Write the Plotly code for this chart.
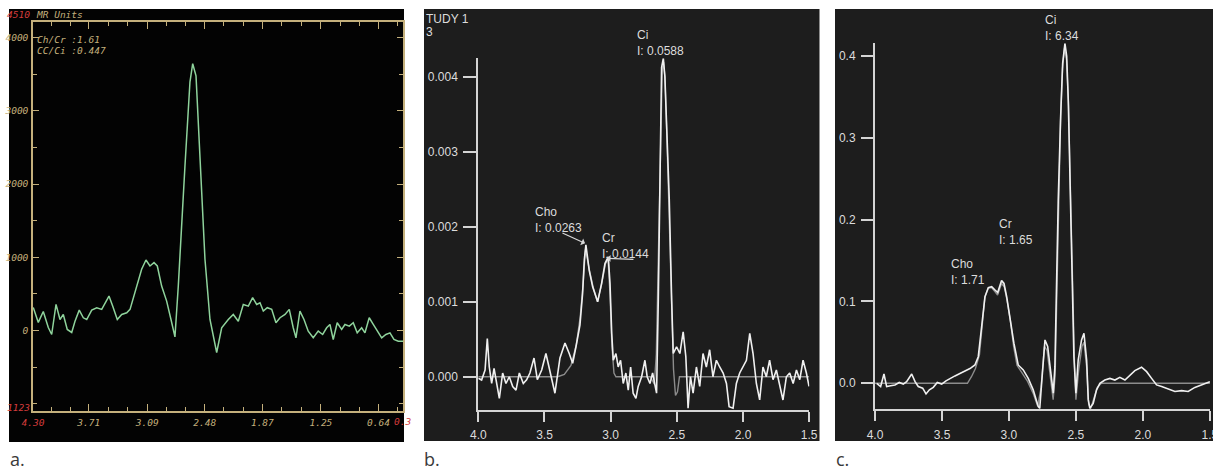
import plotly.graph_objects as go

# ---------------- data ----------------
# Panel a: MR spectrum (ppm, MR units)
a_ppm = [4.297, 4.244, 4.191, 4.138, 4.102, 4.056, 4.014, 3.979, 3.937, 3.890, 3.855, 3.810,
         3.767, 3.731, 3.678, 3.625, 3.572, 3.537, 3.495, 3.456, 3.407, 3.360, 3.307, 3.272,
         3.238, 3.195, 3.149, 3.103, 3.061, 3.018, 2.983, 2.937, 2.884, 2.838, 2.796, 2.761,
         2.743, 2.690, 2.637, 2.608, 2.573, 2.531, 2.478, 2.425, 2.354, 2.301, 2.231, 2.178,
         2.125, 2.072, 2.019, 1.973, 1.930, 1.895, 1.860, 1.818, 1.771, 1.726, 1.683, 1.630,
         1.585, 1.543, 1.514, 1.472, 1.429, 1.384, 1.331, 1.278, 1.231, 1.189, 1.154, 1.119,
         1.077, 1.030, 0.995, 0.949, 0.907, 0.865, 0.818, 0.783, 0.738, 0.695, 0.653, 0.606,
         0.561, 0.518, 0.476, 0.430, 0.380]
a_val = [315, 110, 260, 41, -55, 356, 150, 219, 14, -27, 127, 278,
         173, 150, 278, 311, 288, 379, 470, 333, 150, 219, 242, 288,
         448, 653, 836, 963, 881, 927, 881, 607, 401, 150, -87, 600,
         1068, 2247, 3397, 3644, 3479, 2342, 973, 150, -301, 37, 150, 219,
         127, 356, 333, 448, 356, 379, 265, 311, 288, 105, 174, 219,
         288, 37, -100, 265, 150, -9, -100, -9, -55, 37, 82, -123,
         105, 14, 82, 59, 105, -32, 37, -32, 174, 82, -9, -100,
         -55, -32, -123, -146, -146]

a_xticks = [4.30, 3.71, 3.09, 2.48, 1.87, 1.25, 0.64]
a_xtext = ['<span style="color:#d43c3c">4.30</span>', '3.71', '3.09', '2.48', '1.87', '1.25', '0.64']
a_yticks = [0, 1000, 2000, 3000, 4000]

# Panel b: spectrum and fit
b_ppm = [4.000, 3.975, 3.949, 3.932, 3.917, 3.899, 3.881, 3.861, 3.841, 3.816, 3.791, 3.766,
         3.740, 3.715, 3.690, 3.660, 3.635, 3.610, 3.579, 3.554, 3.521, 3.489, 3.458, 3.421,
         3.383, 3.345, 3.313, 3.287, 3.262, 3.232, 3.212, 3.199, 3.187, 3.162, 3.136, 3.098,
         3.068, 3.043, 3.018, 3.005, 2.992, 2.980, 2.960, 2.943, 2.925, 2.905, 2.885, 2.867,
         2.849, 2.830, 2.809, 2.792, 2.766, 2.741, 2.724, 2.703, 2.683, 2.666, 2.653, 2.640,
         2.628, 2.615, 2.602, 2.590, 2.582, 2.572, 2.557, 2.539, 2.527, 2.502, 2.477, 2.452,
         2.432, 2.415, 2.397, 2.377, 2.352, 2.327, 2.302, 2.277, 2.252, 2.227, 2.201, 2.176,
         2.150, 2.125, 2.105, 2.075, 2.050, 2.025, 2.000, 1.974, 1.949, 1.924, 1.899, 1.874,
         1.849, 1.824, 1.799, 1.773, 1.748, 1.723, 1.698, 1.672, 1.647, 1.621, 1.596, 1.571,
         1.546, 1.521, 1.501]
b_val = [-0.00002, -0.000044, 0.00009, 0.00051, 0.00013, -0.00009, 0.00011, -0.00007, -0.00029,
         0.00005, -0.00009, 0.0, -0.00013, -0.00018, 0.00005, -0.00009, -0.00004, 0.00005,
         0.00025, -0.00004, 0.00009, 0.00031, 0.00005, -0.00022, 0.00025, 0.00045, 0.00031,
         0.00018, 0.0004, 0.00069, 0.00111, 0.00156, 0.00176, 0.00142, 0.0012, 0.001,
         0.00125, 0.00151, 0.0016, 0.00125, 0.00058, 0.00022, 0.00031, 0.00013, 0.00022,
         -0.00009, 0.00005, -0.00018, 0.00013, -0.00022, -0.00029, -0.00013, 0.0, 0.00022,
         0.0, -0.00009, 0.00005, -0.00009, -0.00022, 0.00102, 0.0028, 0.00413, 0.00425,
         0.004, 0.0036, 0.00316, 0.00236, 0.00102, 0.00031, 0.0004, 0.00031, 0.0006,
         0.00027, -0.00042, 0.0, -0.00022, 0.00013, -0.00013, 0.00031, 0.00013, 0.00036,
         0.0, 0.00022, 0.00013, 0.00005, -0.00009, -0.0004, -0.00042, -0.00009, 0.00005,
         0.00013, 0.00022, 0.00058, 0.00031, -0.00009, -0.00031, 0.00013, 0.0, 0.00022,
         -0.00004, 0.00009, -0.00009, -0.00031, 0.0, 0.00005, -0.00009, 0.00009, -0.00004,
         0.00022, 0.00005, -0.00013]
b_fit_ppm = [4.0, 3.40, 3.35, 3.30, 3.26, 3.23, 3.21, 3.19, 3.16, 3.13, 3.10, 3.07, 3.04, 3.02,
             3.005, 2.99, 2.975, 2.96, 2.70, 2.67, 2.655, 2.64, 2.625, 2.61, 2.60, 2.59, 2.575,
             2.555, 2.54, 2.525, 2.51, 2.495, 2.48, 1.5]
b_fit_val = [0.0, 0.0, 0.00003, 0.00015, 0.00042, 0.0008, 0.0012, 0.0017, 0.00142, 0.00118,
             0.001, 0.00122, 0.0015, 0.00158, 0.0011, 0.0004, 0.00005, 0.0, 0.0, -0.0001,
             0.0003, 0.0015, 0.003, 0.0041, 0.0042, 0.004, 0.0032, 0.002, 0.0009, 0.0001,
             -0.00025, -0.0002, 0.0, 0.0]

# Panel c: spectrum and fit
c_ppm = [3.987, 3.958, 3.933, 3.913, 3.883, 3.851, 3.819, 3.789, 3.764, 3.726, 3.701, 3.677,
         3.644, 3.619, 3.594, 3.565, 3.535, 3.502, 3.470, 3.440, 3.403, 3.366, 3.328, 3.291,
         3.254, 3.229, 3.204, 3.179, 3.154, 3.129, 3.104, 3.084, 3.055, 3.037, 3.017, 2.993,
         2.963, 2.931, 2.893, 2.856, 2.819, 2.781, 2.770, 2.756, 2.731, 2.711, 2.694, 2.669,
         2.657, 2.644, 2.632, 2.614, 2.599, 2.582, 2.569, 2.557, 2.545, 2.530, 2.515, 2.500,
         2.483, 2.458, 2.440, 2.420, 2.408, 2.396, 2.371, 2.346, 2.321, 2.284, 2.246, 2.209,
         2.172, 2.134, 2.097, 2.060, 2.010, 1.972, 1.935, 1.898, 1.860, 1.811, 1.761, 1.711,
         1.662, 1.612, 1.562, 1.525, 1.500]
c_val = [0.0, -0.004, 0.0114, -0.004, -0.003, -0.002, 0.001, -0.001, 0.002, 0.0114, 0.002,
         -0.004, -0.006, -0.013, -0.008, -0.005, 0.001, -0.001, 0.003, 0.006, 0.009, 0.012,
         0.0154, 0.018, 0.0224, 0.0325, 0.069, 0.106, 0.117, 0.118, 0.114, 0.111, 0.1255,
         0.122, 0.106, 0.0815, 0.049, 0.0224, 0.0163, 0.006, -0.008, -0.0286, -0.0306, 0.0,
         0.053, 0.045, 0.020, -0.012, 0.020, 0.1425, 0.224, 0.326, 0.391, 0.4156, 0.40,
         0.346, 0.2445, 0.122, 0.0325, -0.012, 0.0285, 0.053, 0.061, 0.0285, -0.020, -0.0306,
         -0.0245, -0.008, 0.0, 0.004, 0.006, 0.004, 0.0073, 0.004, 0.010, 0.0155, 0.0196,
         0.0142, 0.006, -0.002, -0.004, -0.0073, -0.010, -0.009, -0.010, -0.005, -0.002,
         0.0, 0.002]
c_fit_ppm = [4.0, 3.31, 3.28, 3.25, 3.22, 3.20, 3.18, 3.155, 3.13, 3.105, 3.085, 3.055, 3.035,
             3.015, 2.99, 2.965, 2.94, 2.90, 2.86, 2.82, 2.785, 2.76, 2.735, 2.715, 2.69, 2.67,
             2.655, 2.64, 2.615, 2.60, 2.585, 2.57, 2.555, 2.54, 2.525, 2.51, 2.50, 2.48, 2.455,
             2.44, 2.42, 2.405, 2.39, 2.37, 2.34, 2.31, 1.5]
c_fit_val = [0.0, 0.0, 0.008, 0.018, 0.035, 0.07, 0.105, 0.116, 0.117, 0.112, 0.108, 0.122,
             0.118, 0.102, 0.077, 0.045, 0.022, 0.012, 0.002, -0.012, -0.028, -0.005, 0.045,
             0.04, 0.01, -0.02, 0.01, 0.14, 0.32, 0.385, 0.41, 0.395, 0.34, 0.23, 0.11, 0.02,
             -0.02, 0.015, 0.045, 0.05, 0.02, -0.025, -0.031, -0.02, -0.005, 0.0, 0.0]

bc_xticks = [4.0, 3.5, 3.0, 2.5, 2.0, 1.5]
b_yticks = [0.0, 0.001, 0.002, 0.003, 0.004]
c_yticks = [0.0, 0.1, 0.2, 0.3, 0.4]

# ---------------- layout helpers ----------------
W, H = 1213, 474
def fx(px):
    return px / W
def fy(py):
    return 1 - py / H

TAN = '#c4b07c'
RED = '#d43c3c'
GREEN = '#8fd39c'
LG = '#d4d4d4'
MONO = 'DejaVu Sans Mono'
SANS = 'Liberation Sans'

# minor ticks between labelled ticks (thirds), panel a
a_xminor = []
for i in range(len(a_xticks) - 1):
    s = (a_xticks[i + 1] - a_xticks[i]) / 3
    a_xminor += [a_xticks[i] + s, a_xticks[i] + 2 * s]
a_xminor += [a_xticks[-1] - 0.205]
a_yminor = [-1000, -500, 500, 1500, 2500, 3500]

fig = go.Figure()
fig.add_trace(go.Scatter(x=a_ppm, y=a_val, xaxis='x', yaxis='y', mode='lines',
                         line=dict(color=GREEN, width=1.5), hoverinfo='skip'))
fig.add_trace(go.Scatter(x=b_fit_ppm, y=b_fit_val, xaxis='x2', yaxis='y2', mode='lines',
                         line=dict(color='#8c8c8c', width=1.4), hoverinfo='skip'))
fig.add_trace(go.Scatter(x=b_ppm, y=b_val, xaxis='x2', yaxis='y2', mode='lines',
                         line=dict(color='#f0f0f0', width=1.6), hoverinfo='skip'))
fig.add_trace(go.Scatter(x=c_fit_ppm, y=c_fit_val, xaxis='x3', yaxis='y3', mode='lines',
                         line=dict(color='#8c8c8c', width=1.4), hoverinfo='skip'))
fig.add_trace(go.Scatter(x=c_ppm, y=c_val, xaxis='x3', yaxis='y3', mode='lines',
                         line=dict(color='#f0f0f0', width=1.6), hoverinfo='skip'))

afont = dict(family=MONO, size=9.5, color=TAN, style='italic')
bcfont = dict(family=SANS, size=12, color='#dcdcdc')

common_bc = dict(showgrid=False, zeroline=False, showline=True, linecolor=LG, linewidth=2,
                 ticks='outside', tickcolor=LG, tickwidth=2, tickfont=bcfont, automargin=False,
                 ticklabeloverflow='allow')

fig.update_layout(
    template='none',
    width=W, height=H, margin=dict(l=0, r=0, t=0, b=0, pad=0, autoexpand=False),
    paper_bgcolor='white', plot_bgcolor='rgba(0,0,0,0)', showlegend=False,
    xaxis=dict(domain=[fx(33), fx(403)], range=[4.30, 0.38], anchor='y', automargin=False,
               tickmode='array', tickvals=a_xticks, ticktext=a_xtext,
               ticks='inside', ticklen=7, tickwidth=1, tickcolor=TAN,
               showline=True, linecolor=TAN, linewidth=1.5, mirror='allticks',
               showgrid=False, zeroline=False, tickfont=afont, ticklabelstandoff=2,
               minor=dict(tickmode='array', tickvals=a_xminor, ticks='inside', ticklen=4,
                          tickcolor=TAN, showgrid=False)),
    yaxis=dict(domain=[fy(411), fy(22)], range=[-1100, 4214], anchor='x', automargin=False,
               tickmode='array', tickvals=a_yticks, ticktext=[str(v) for v in a_yticks],
               ticks='inside', ticklen=6, tickwidth=1, tickcolor=TAN,
               showline=True, linecolor=TAN, linewidth=1.5, mirror='allticks',
               showgrid=False, zeroline=False, tickfont=afont, ticklabelstandoff=1,
               minor=dict(tickmode='array', tickvals=a_yminor, ticks='inside', ticklen=4,
                          tickcolor=TAN, showgrid=False)),
    xaxis2=dict(domain=[fx(478.3), fx(809.3)], range=[4.0, 1.499], anchor='y2',
                tickmode='array', tickvals=bc_xticks, ticktext=['%.1f' % v for v in bc_xticks],
                ticklen=10, ticklabelstandoff=3, **common_bc),
    yaxis2=dict(domain=[fy(410), fy(58.3)], range=[-0.000444, 0.00425], anchor='x2',
                tickmode='array', tickvals=b_yticks, ticktext=['%.3f' % v for v in b_yticks],
                ticklen=13, ticklabelstandoff=3, **common_bc),
    xaxis3=dict(domain=[fx(875), fx(1210)], range=[4.0, 1.499], anchor='y3',
                tickmode='array', tickvals=bc_xticks, ticktext=['%.1f' % v for v in bc_xticks],
                ticklen=10, ticklabelstandoff=3, **common_bc),
    yaxis3=dict(domain=[fy(409.3), fy(43.3)], range=[-0.0318, 0.4156], anchor='x3',
                tickmode='array', tickvals=c_yticks, ticktext=['%.1f' % v for v in c_yticks],
                ticklen=12, ticklabelstandoff=3, **common_bc),
)

# panel backgrounds
fig.add_shape(type='rect', xref='paper', yref='paper', x0=fx(9), x1=fx(404), y0=fy(442), y1=fy(9),
              fillcolor='#030303', line_width=0, layer='below')
fig.add_shape(type='rect', xref='paper', yref='paper', x0=fx(424), x1=fx(819.5), y0=fy(441), y1=fy(9),
              fillcolor='#1d1d1d', line_width=0, layer='below')
fig.add_shape(type='rect', xref='paper', yref='paper', x0=fx(835), x1=fx(1213), y0=fy(441), y1=fy(9),
              fillcolor='#1d1d1d', line_width=0, layer='below')

def note(text, px, py, font, xanchor='left', yanchor='middle', align='left'):
    fig.add_annotation(text=text, xref='paper', yref='paper', x=fx(px), y=fy(py),
                       xanchor=xanchor, yanchor=yanchor, align=align, showarrow=False,
                       font=font)

# panel a texts
note('4510', 32, 15, dict(family=MONO, size=9.5, color=RED, style='italic'), xanchor='right')
note('MR Units', 34, 15, afont)
note('1123', 32, 407, dict(family=MONO, size=9.5, color=RED, style='italic'), xanchor='right')
note('Ch/Cr :1.61', 35, 40, afont)
note('CC/Ci :0.447', 35, 50, afont)
note('0.3', 392, 421, dict(family=MONO, size=9.5, color=RED, style='italic'))

# panel b texts
note('TUDY 1', 424, 19, bcfont)
note('3', 424, 32, bcfont)
note('Ci<br>I: 0.0588', 635, 26, bcfont, yanchor='top')
note('Cho<br>I: 0.0263', 533, 203, bcfont, yanchor='top')
note('Cr<br>I: 0.0144', 600, 229, bcfont, yanchor='top')
fig.add_annotation(x=3.194, y=0.00178, xref='x2', yref='y2', text='', showarrow=True,
                   ax=-24, ay=-11, arrowhead=1, arrowsize=1, arrowwidth=1.2, arrowcolor='#d8d8d8')
fig.add_annotation(x=3.028, y=0.00158, xref='x2', yref='y2', text='', showarrow=True,
                   ax=28, ay=1, arrowhead=1, arrowsize=1, arrowwidth=1.2, arrowcolor='#d8d8d8')

# panel c texts
note('Ci<br>I: 6.34', 1043, 11, bcfont, yanchor='top')
note('Cr<br>I: 1.65', 997, 215, bcfont, yanchor='top')
note('Cho<br>I: 1.71', 949, 255, bcfont, yanchor='top')

# panel letters
lfont = dict(family='Open Sans', size=18, color='#3a3a3a')
note('a.', 8, 459, lfont)
note('b.', 422, 459, lfont)
note('c.', 834, 459, lfont)

fig.write_html('out.html', config={'displayModeBar': False},
               post_script="document.body.style.margin='0';document.body.style.overflow='hidden';")
